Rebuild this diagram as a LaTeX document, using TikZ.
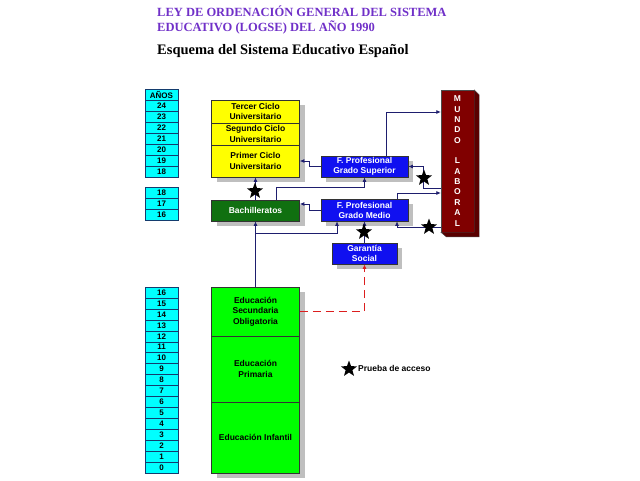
\documentclass[tikz,border=0pt]{standalone}
\usepackage{fontspec}
\setmainfont{Liberation Serif}
\setsansfont{Liberation Sans}
\usetikzlibrary{arrows.meta,shapes.geometric,shadows}

\definecolor{titlepurple}{RGB}{112,48,200}
\definecolor{agecyan}{RGB}{0,255,255}
\definecolor{ageline}{RGB}{20,60,110}
\definecolor{uniyellow}{RGB}{255,255,0}
\definecolor{bachgreen}{RGB}{16,112,16}
\definecolor{obligreen}{RGB}{0,255,0}
\definecolor{fpblue}{RGB}{16,16,240}
\definecolor{labred}{RGB}{128,0,0}
\definecolor{labside}{RGB}{90,0,0}
\definecolor{linknavy}{RGB}{30,30,110}
\definecolor{linkred}{RGB}{220,30,30}

\tikzset{
  agecell/.style={draw=ageline, fill=agecyan, minimum width=33pt, minimum height=10.9pt,
    inner sep=0pt, font=\sffamily\bfseries\fontsize{8}{8}\selectfont},
  stage/.style={draw=black!80, line width=0.6pt, minimum width=88pt, inner sep=1pt,
    align=center, font=\sffamily\bfseries\fontsize{8.5}{10.5}\selectfont,
    drop shadow={shadow xshift=5pt, shadow yshift=-5pt, fill=black!25, opacity=1}},
  fpstage/.style={stage, fill=fpblue, text=white, minimum width=87pt,
    font=\sffamily\bfseries\fontsize{8.5}{10}\selectfont},
  link/.style={draw=linknavy, line width=0.8pt, -{Latex[length=4.5pt,width=4pt]}},
  access/.style={star, star points=5, star point ratio=2.4, fill=black,
    minimum size=17pt, inner sep=0pt},
}

\begin{document}
\begin{tikzpicture}[x=1pt,y=-1pt]
\useasboundingbox (0,0) rectangle (640,480);

% titles
\node[anchor=base west, inner sep=0, text=titlepurple, font=\bfseries\fontsize{12.5}{14}\selectfont] (ley1) at (157,16) {LEY DE ORDENACIÓN GENERAL DEL SISTEMA};
\node[anchor=base west, inner sep=0, text=titlepurple, font=\bfseries\fontsize{12.5}{14}\selectfont] (ley2) at (157,31) {EDUCATIVO (LOGSE) DEL AÑO 1990};
\node[anchor=base west, inner sep=0, font=\bfseries\fontsize{14.5}{16}\selectfont] (esquema) at (157,54) {Esquema del Sistema Educativo Español};

% ages
\node[agecell] (anos) at (161.5,95) {AÑOS};
\foreach \a [count=\i from 0] in {24,23,22,21,20,19,18}
  \node[agecell] (up\i) at (161.5,{106+\i*10.9}) {\a};
\foreach \a [count=\i from 0] in {18,17,16}
  \node[agecell] (mid\i) at (161.5,{193+\i*10.9}) {\a};
\foreach \a [count=\i from 0] in {16,15,...,0}
  \node[agecell] (low\i) at (161.5,{292.5+\i*10.94}) {\a};

% stages
\node[stage, fill=uniyellow, minimum height=23pt] (tercer) at (255.5,111.5) {Tercer Ciclo\\Universitario};
\node[stage, fill=uniyellow, minimum height=22pt] (segundo) at (255.5,134) {Segundo Ciclo\\Universitario};
\node[stage, fill=uniyellow, minimum height=32pt] (primer) at (255.5,161) {Primer Ciclo\\Universitario};
\node[stage, fill=bachgreen, text=white, minimum height=21pt] (bach) at (255.5,210.5) {Bachilleratos};
\node[stage, fill=obligreen, minimum height=49pt] (eso) at (255.5,311.5) {Educación\\Secundaria\\Obligatoria};
\node[stage, fill=obligreen, minimum height=66pt] (primaria) at (255.5,369) {Educación\\Primaria};
\node[stage, fill=obligreen, minimum height=71pt] (infantil) at (255.5,437.5) {Educación Infantil};

\node[fpstage, minimum height=21pt] (fpgs) at (364.5,166.5) {F. Profesional\\Grado Superior};
\node[fpstage, minimum height=22pt] (fpgm) at (364.5,210) {F. Profesional\\Grado Medio};
\node[fpstage, minimum width=65pt, minimum height=21pt] (garantia) at (364.5,253.5) {Garantía\\Social};

% mundo laboral
\node[draw=black!70, fill=labred, text=white, minimum width=33pt, minimum height=142pt,
  inner sep=0pt, align=center, font=\sffamily\bfseries\fontsize{8.5}{10.35}\selectfont] (mundo)
  at (457.5,161) {M\\U\\N\\D\\O\\[10.35pt]L\\A\\B\\O\\R\\A\\L};
\filldraw[fill=labside, draw=black!70] (mundo.north east) -- ++(5,5) -- ++(0,142)
  -- ++(-33,0) -- (mundo.south west) -- (mundo.south east) -- cycle;

% connectors
\coordinate (split) at (255.5,233);
\draw[link] (eso.north) -- (bach.south);
\draw[link] (split) -| ([xshift=-27.5pt]fpgm.south);
\draw[link] (bach.north) -- (primer.south);
\draw[link] ([xshift=20.5pt]bach.north) -- ++(0,-12) -| (fpgs.south);
\draw[link] (fpgs.west) -- ++(-11,0) |- (primer.east);
\draw[link] (fpgm.west) -- ++(-11,0) |- ([yshift=6.5pt]bach.east);
\draw[link] ([xshift=21.5pt]fpgs.north) |- ([yshift=49pt]mundo.west);
\draw[link] ([xshift=32.5pt]fpgm.north) |- ([yshift=-32pt]mundo.west);
\draw[link] ([yshift=-27pt]mundo.west) -- ++(-17,0) |- (fpgs.east);
\draw[link] ([yshift=-66pt]mundo.west) -| ([xshift=32.5pt]fpgm.south);
\draw[link] (garantia.north) -- (fpgm.south);
\draw[link, draw=linkred, line width=1pt, dash pattern=on 8pt off 5pt] (eso.east) -| (garantia.south);

% access tests
\node[access] (star1) at (255,191) {};
\node[access] (star2) at (424,178) {};
\node[access] (star3) at (364,232) {};
\node[access] (star4) at (429,227) {};

% key
\node[access] (keystar) at (349,369) {};
\node[anchor=west, inner sep=0pt, font=\sffamily\bfseries\fontsize{8.5}{10}\selectfont] (keytext) at (358,368) {Prueba de acceso};
\end{tikzpicture}
\end{document}
